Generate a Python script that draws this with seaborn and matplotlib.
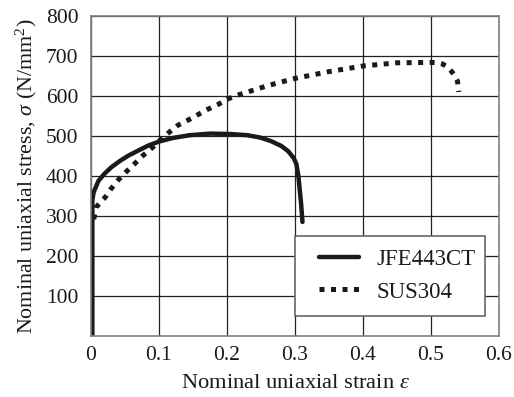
import numpy as np
import pandas as pd
import seaborn as sns
import matplotlib
matplotlib.use("Agg")
import matplotlib.pyplot as plt
from matplotlib.patches import Rectangle

# values
jfe_strain = [0.002, 0.002, 0.004, 0.011, 0.02, 0.03, 0.042, 0.055, 0.07, 0.084,
              0.1, 0.12, 0.145, 0.175, 0.205, 0.23, 0.249, 0.265, 0.28, 0.29,
              0.298, 0.302, 0.305, 0.307, 0.309, 0.311]
jfe_stress = [0, 340, 360, 388, 406, 422, 437, 451, 464, 476,
              486, 495, 502, 506, 505, 502, 496, 487, 475, 462,
              445, 430, 400, 365, 330, 285]

sus_strain = [0.004, 0.008, 0.021, 0.029, 0.04, 0.052, 0.065, 0.077, 0.089, 0.1,
              0.114, 0.128, 0.143, 0.158, 0.172, 0.187, 0.203, 0.219, 0.234, 0.26,
              0.3, 0.35, 0.4, 0.45, 0.5, 0.51, 0.517, 0.524, 0.530, 0.535,
              0.539, 0.541]
sus_stress = [292, 323, 347, 367, 390, 411, 432, 452, 469, 487,
              508, 527, 540, 554, 567, 579, 594, 604, 612, 626,
              644, 661, 675, 683, 684, 683, 680, 673, 662, 650,
              637, 610]

series_names = ["JFE443CT", "SUS304"]
x_ticks = [0, 0.1, 0.2, 0.3, 0.4, 0.5, 0.6]
x_tick_labels = ["0", "0.1", "0.2", "0.3", "0.4", "0.5", "0.6"]
y_ticks = [100, 200, 300, 400, 500, 600, 700, 800]

df = pd.concat([
    pd.DataFrame({"strain": jfe_strain, "stress": jfe_stress, "steel": series_names[0]}),
    pd.DataFrame({"strain": sus_strain, "stress": sus_stress, "steel": series_names[1]}),
], ignore_index=True)

sns.set_style("white")
plt.rcParams["font.family"] = ["Liberation Serif", "DejaVu Serif"]
plt.rcParams["mathtext.fontset"] = "custom"
plt.rcParams["mathtext.rm"] = "Liberation Serif"
plt.rcParams["mathtext.it"] = "Liberation Serif:italic"

ink = "#1a1a1a"

fig = plt.figure(figsize=(5.14, 3.97), dpi=100)
ax = fig.add_axes([91 / 514, 1 - 336 / 397, 408 / 514, 320 / 397])

ax.set_axisbelow(True)
ax.grid(True, color="#222222", linewidth=0.9)

sub = df[df["steel"] == series_names[0]]
sns.lineplot(x=sub["strain"], y=sub["stress"], ax=ax, color=ink,
             linewidth=3.2, sort=False, estimator=None, label=series_names[0])
sub = df[df["steel"] == series_names[1]]
sns.lineplot(x=sub["strain"], y=sub["stress"], ax=ax, color=ink,
             linewidth=3.6, sort=False, estimator=None, label=series_names[1],
             dashes=(1.0, 1.3))
ax.lines[1].set_dash_capstyle("butt")
ax.lines[0].set_solid_joinstyle("round")

ax.set_xlim(0, 0.6)
ax.set_ylim(0, 800)
ax.set_xticks(x_ticks)
ax.set_xticklabels(x_tick_labels)
ax.set_yticks(y_ticks)
ax.tick_params(length=0, labelsize=15.5, labelcolor=ink)
ax.tick_params(axis="y", pad=9)
ax.tick_params(axis="x", pad=7)

for s in ax.spines.values():
    s.set_color("#808080")
    s.set_linewidth(1.2)

ax.set_xlabel(r"Nominal uniaxial strain $\it{\varepsilon}$", fontsize=16.2, color=ink, labelpad=7)
ax.set_ylabel(r"Nominal uniaxial stress, $\it{\sigma}$ (N/mm$^2$)", fontsize=15.8, color=ink, labelpad=5)

# legend box drawn separately so the padding matches the original
ax.add_patch(Rectangle((0.5, 0.0625), 0.466, 0.25, transform=ax.transAxes,
                       facecolor="white", edgecolor="#666666", linewidth=1.2, zorder=4))
leg = ax.legend(loc="upper left", bbox_to_anchor=((319 - 91) / 408, 0.272), fontsize=16.5,
                frameon=False, handlelength=1.75, handletextpad=0.75, borderpad=0,
                labelspacing=0.5, borderaxespad=0)
leg.set_zorder(5)
for t in leg.get_texts():
    t.set_color(ink)

fig.savefig("out.png", dpi=100)
